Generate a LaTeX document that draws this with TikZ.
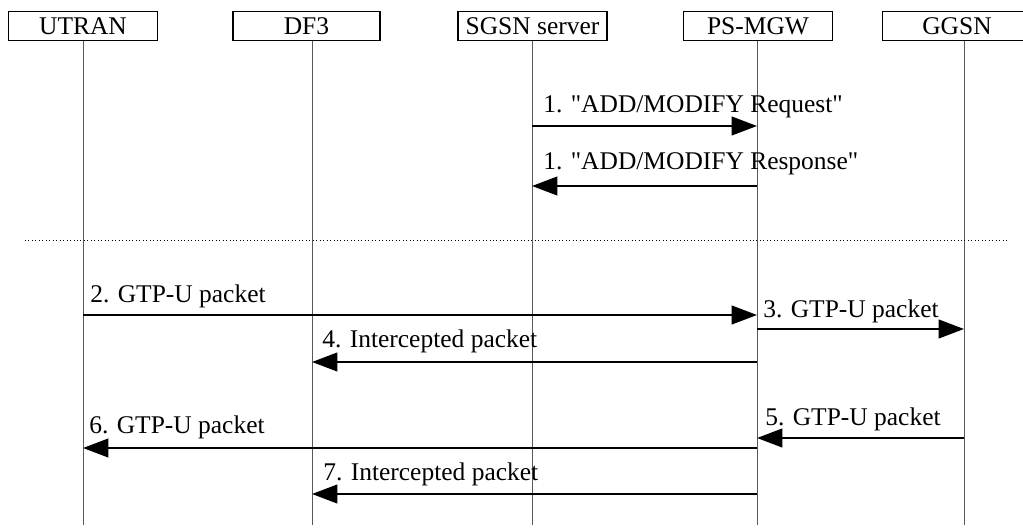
\documentclass[tikz,border=0pt]{standalone}
\usepackage{fontspec}
\setmainfont{Liberation Serif}
\usetikzlibrary{arrows.meta}

\begin{document}
\begin{tikzpicture}[line cap=butt,line join=miter,x=0.75pt,y=-0.75pt,
    >={Triangle[length=19pt,width=14pt]},
    entity/.style={draw,line width=1.1pt,minimum width=112pt,minimum height=21.5pt,inner sep=0pt,font=\fontsize{19.1}{22}\selectfont},
    life/.style={draw=black!65,line width=0.75pt},
    msg/.style={->,line width=1.5pt},
    lbl/.style={anchor=base west,inner sep=0pt,font=\fontsize{19.1}{22}\selectfont}]
    \useasboundingbox (0,0) rectangle (1023,530);
    \clip (0,0) rectangle (1023,530);
    % entities
    \node[entity] (utranbox) at (83,26) {UTRAN};
    \node[entity,minimum width=110pt] (dfbox) at (306.5,26) {DF3};
    \node[entity] (sgsnbox) at (532.5,26) {SGSN server};
    \node[entity] (mgwbox) at (758,26) {PS-MGW};
    \node[entity] (ggsnbox) at (957,26) {GGSN};
    % lifelines
    \foreach \name/\x in {utran/83,df/312,sgsn/532,mgw/757,ggsn/964}{
    \coordinate (\name) at (\x,0);
    \draw[life] (\name |- utranbox.south) -- (\name |- 0,525);
    }
    \draw[msg] (sgsn |- 0,126) -- (mgw |- 0,126);
    \node[lbl] at (543,113) {1. \textquotedbl ADD/MODIFY Request\textquotedbl};
    \draw[msg] (mgw |- 0,186) -- (sgsn |- 0,186);
    \node[lbl] at (543,170) {1. \textquotedbl ADD/MODIFY Response\textquotedbl};
    \draw[dotted,line width=0.6pt] (25,240) -- (1008,240);
    \draw[msg] (utran |- 0,315) -- (mgw |- 0,315);
    \node[lbl] at (90,303) {2. GTP-U packet};
    \draw[msg] (mgw |- 0,329) -- (ggsn |- 0,329);
    \node[lbl] at (763,318) {3. GTP-U packet};
    \draw[msg] (mgw |- 0,362) -- (df |- 0,362);
    \node[lbl] at (322,348) {4. Intercepted packet};
    \draw[msg] (ggsn |- 0,438) -- (mgw |- 0,438);
    \node[lbl] at (765,425) {5. GTP-U packet};
    \draw[msg] (mgw |- 0,448) -- (utran |- 0,448);
    \node[lbl] at (89,433) {6. GTP-U packet};
    \draw[msg] (mgw |- 0,494) -- (df |- 0,494);
    \node[lbl] at (323,480) {7. Intercepted packet};
\end{tikzpicture}
\end{document}
